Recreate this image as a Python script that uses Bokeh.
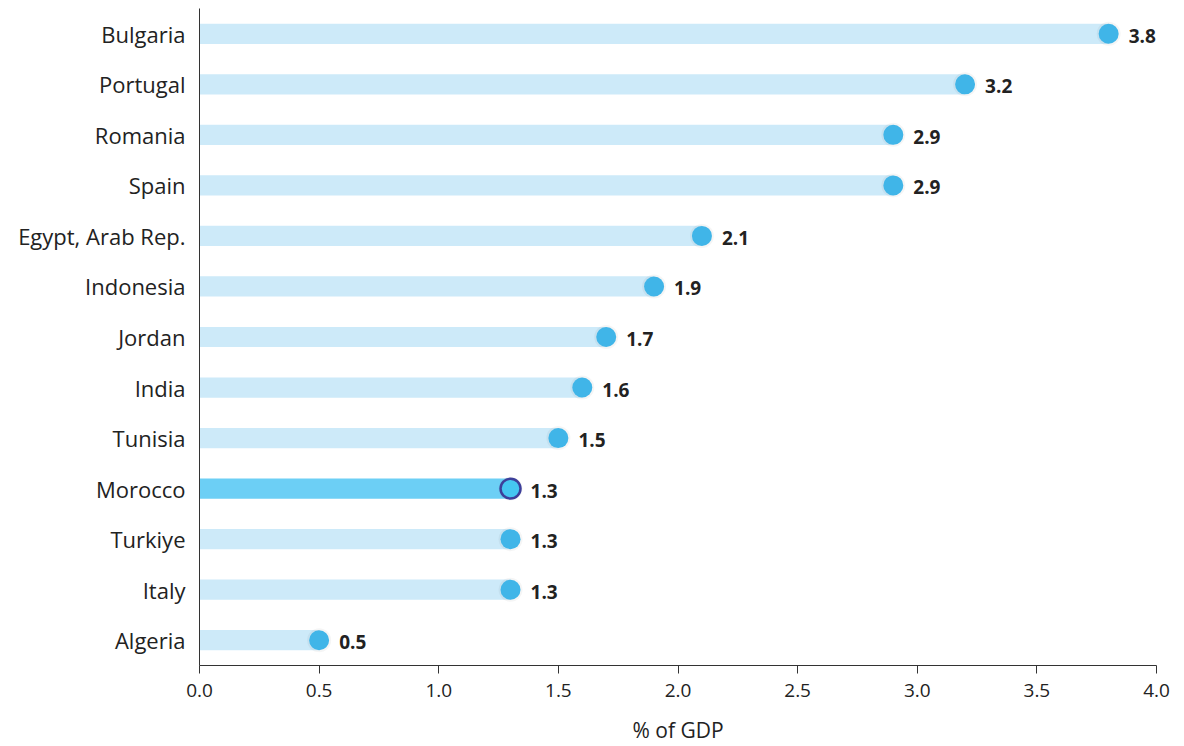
from bokeh.plotting import figure
from bokeh.models import ColumnDataSource, FactorRange, Range1d, FixedTicker, CustomJSTickFormatter, LabelSet
from bokeh.embed import file_html
from bokeh.resources import INLINE
from bokeh.core.properties import value

countries = ["Bulgaria", "Portugal", "Romania", "Spain", "Egypt, Arab Rep.", "Indonesia",
             "Jordan", "India", "Tunisia", "Morocco", "Turkiye", "Italy", "Algeria"]
values = [3.8, 3.2, 2.9, 2.9, 2.1, 1.9, 1.7, 1.6, 1.5, 1.3, 1.3, 1.3, 0.5]
labels = ["3.8", "3.2", "2.9", "2.9", "2.1", "1.9", "1.7", "1.6", "1.5", "1.3", "1.3", "1.3", "0.5"]
highlight = "Morocco"
x_ticks = [0.0, 0.5, 1.0, 1.5, 2.0, 2.5, 3.0, 3.5, 4.0]

bar_colors = ["#6ccff5" if c == highlight else "#cdeaf9" for c in countries]
dot_colors = ["#45c6f1" if c == highlight else "#40b5e8" for c in countries]
dot_lines = ["#3d3f9a" if c == highlight else "#40b5e8" for c in countries]
dot_lw = [2.5 if c == highlight else 0 for c in countries]

src = ColumnDataSource(dict(country=countries, val=values, lab=labels,
                            bc=bar_colors, dc=dot_colors, dl=dot_lines, lw=dot_lw))

FONT = "Open Sans"
p = figure(width=1184, height=746, output_backend="svg", toolbar_location=None,
           y_range=FactorRange(*reversed(countries), range_padding=0),
           x_range=Range1d(0, 4.0),
           min_border_left=199, min_border_right=28, min_border_top=8, min_border_bottom=81)
p.outline_line_color = None
p.xgrid.grid_line_color = None
p.ygrid.grid_line_color = None
p.background_fill_color = "white"

p.hbar(y="country", left=0, right="val", height=0.4, fill_color="bc", line_color=None, source=src)
# soft shadow
p.scatter(x="val", y="country", size=24, fill_color="#000000", fill_alpha=0.04, line_color=None, source=src)
p.scatter(x="val", y="country", size=20, fill_color="dc", line_color="dl", line_width="lw", source=src)
p.add_layout(LabelSet(x="val", y="country", text="lab", x_offset=20, y_offset=-2, text_baseline="middle",
                      text_font=value(FONT), text_font_style="bold", text_font_size="19px",
                      text_color="#222222", source=src))

p.xaxis.ticker = FixedTicker(ticks=x_ticks)
p.xaxis.formatter = CustomJSTickFormatter(code="return tick.toFixed(1);")
p.xaxis.axis_label = "% of GDP"
p.xaxis.axis_label_text_font = FONT
p.xaxis.axis_label_text_font_style = "normal"
p.xaxis.axis_label_text_font_size = "21px"
p.xaxis.axis_label_text_color = "#222222"
p.xaxis.axis_label_standoff = 16
p.xaxis.major_label_text_font = FONT
p.xaxis.major_label_text_font_size = "19px"
p.xaxis.major_label_text_color = "#222222"
p.xaxis.major_label_standoff = 10
p.xaxis.major_tick_in = 0
p.xaxis.major_tick_out = 8
p.xaxis.minor_tick_line_color = None
p.xaxis.axis_line_color = "#333333"
p.xaxis.major_tick_line_color = "#333333"

p.yaxis.major_tick_line_color = None
p.yaxis.minor_tick_line_color = None
p.yaxis.major_label_text_font = FONT
p.yaxis.major_label_text_font_size = "22px"
p.yaxis.major_label_text_color = "#222222"
p.yaxis.major_label_standoff = 8
p.yaxis.axis_line_color = "#333333"

open("out.html", "w").write(file_html(p, INLINE))
